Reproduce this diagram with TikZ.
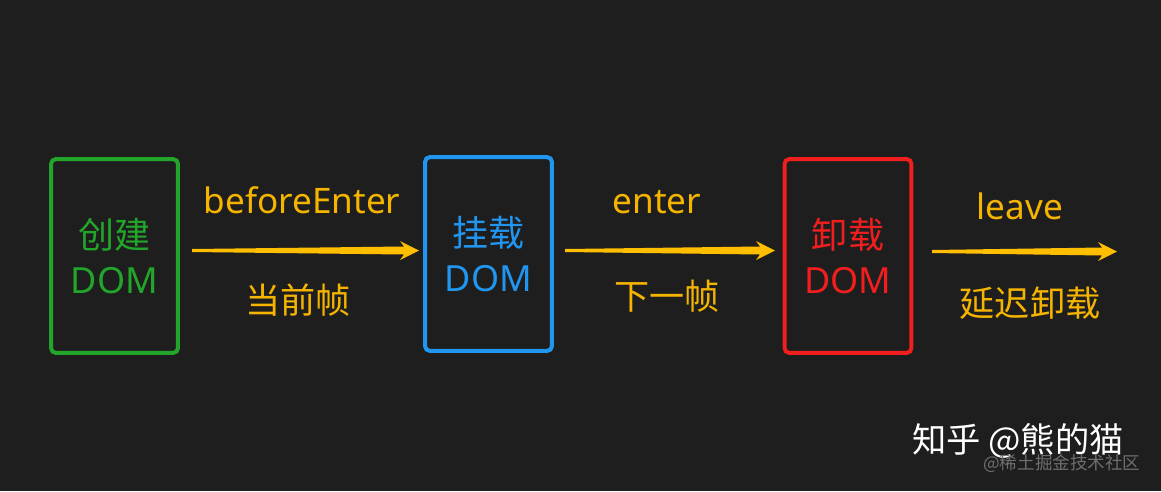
\documentclass[tikz,border=0pt]{standalone}
\usepackage{fontspec}
\setmainfont{Noto Sans}
\newfontfamily\cjk{Noto Sans CJK SC}
\usetikzlibrary{positioning, calc}
\definecolor{bgDark}{HTML}{1E1E1E}
\definecolor{domGreen}{HTML}{22A52A}
\definecolor{domBlue}{HTML}{2196F0}
\definecolor{domRed}{HTML}{F01E1E}
\definecolor{arrowGold}{HTML}{FFBE00}
\definecolor{labelGold}{HTML}{F5B400}
\definecolor{markGray}{HTML}{6E6E6E}

\tikzset{
    domBox/.style={draw=#1, text=#1, line width=0.08cm, rounded corners=0.1cm,
        minimum width=2.54cm, minimum height=3.88cm, align=center,
        font=\fontsize{20.5}{26}\selectfont},
    hookLabel/.style={text=labelGold, anchor=base, inner sep=0pt,
        font=\fontsize{20}{24}\selectfont},
    arrowFill/.style={fill=arrowGold}
}
% tapered arrow from #1 to #2
\newcommand{\taperArrow}[2]{%
    \fill[arrowFill] ($(#1)+(0,-1.5)$) -- ($(#2)+(-15,-4)$) -- ($(#2)+(-19,-9.5)$)
        -- (#2) -- ($(#2)+(-19,9.5)$) -- ($(#2)+(-15,4)$) -- ($(#1)+(0,1.5)$) -- cycle;}

\begin{document}
\begin{tikzpicture}[x=0.02cm, y=-0.02cm]
        \fill[bgDark] (0,0) rectangle (1161,491);
        \useasboundingbox (0,0) rectangle (1161,491);

        % the three states
        \node[domBox=domGreen] (create) at (114.5,256) {{\cjk 创建}\\DOM};
        \node[domBox=domBlue] (mount) at (488.5,254) {{\cjk 挂载}\\DOM};
        \node[domBox=domRed] (unmount) at (848,256) {{\cjk 卸载}\\DOM};

        % arrow ends
        \coordinate (a1s) at (192,250.5);  \coordinate (a1e) at (419,250.5);
        \coordinate (a2s) at (565,250.5);  \coordinate (a2e) at (775,250.5);
        \coordinate (a3s) at (932,251.5);  \coordinate (a3e) at (1117,251.5);
        \taperArrow{a1s}{a1e}
        \taperArrow{a2s}{a2e}
        \taperArrow{a3s}{a3e}

        % hook names and timing
        \node[hookLabel] (before) at (302,213) {beforeEnter};
        \node[hookLabel] (enter) at (657,213) {enter};
        \node[hookLabel] (leave) at (1020,219) {leave};
        \node[hookLabel] (thisFrame) at (298,313) {\cjk 当前帧};
        \node[hookLabel] (nextFrame) at (667,309) {\cjk 下一帧};
        \node[hookLabel] (delayed) at (1030,316) {\cjk 延迟卸载};

        % watermarks
        \node[anchor=base west, inner sep=0pt, text=white, font=\fontsize{19.5}{22}\selectfont\cjk]
            (zhihu) at (912,452) {知乎\ @熊的猫};
        \node[anchor=base west, inner sep=0pt, text=markGray, font=\fontsize{10}{12}\selectfont\cjk]
            (juejin) at (983,469) {@稀土掘金技术社区};
\end{tikzpicture}
\end{document}
